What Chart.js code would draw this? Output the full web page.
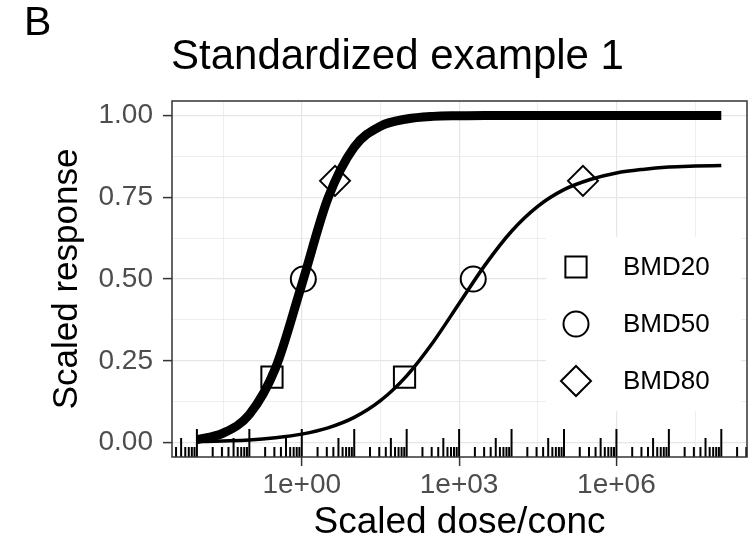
<!DOCTYPE html>
<html>
<head>
<meta charset="utf-8">
<script src="https://cdn.jsdelivr.net/npm/chart.js"></script>
<style>
  html, body { margin: 0; padding: 0; background: #fff; }
  #wrap { width: 755px; height: 548px; }
</style>
</head>
<body>
<div id="wrap"><canvas id="myChart" width="755" height="548"></canvas></div>
<script>
// curve values at half-decade steps
const doses = [0.01, 0.0316, 0.1, 0.316, 1, 3.16, 10, 31.6, 100, 316, 1000, 3162,
  1e4, 31623, 1e5, 316228, 1e6, 3162278, 1e7, 31622777, 1e8]
const potentResponse = [0.009, 0.029, 0.086, 0.228, 0.483, 0.747, 0.903, 0.967, 0.989, 0.997, 0.999, 1.000,
  1.000, 1.000, 1.000, 1.000, 1.000, 1.000, 1.000, 1.000, 1.000]
const weakResponse = [0.003, 0.005, 0.008, 0.015, 0.026, 0.045, 0.077, 0.128, 0.204, 0.306, 0.425, 0.544,
  0.646, 0.722, 0.773, 0.804, 0.824, 0.835, 0.842, 0.845, 0.847]

// benchmark doses
const bmdLabels = ['BMD20', 'BMD50', 'BMD80']
const bmdLevels = [0.2, 0.5, 0.8]
const potentBmd = [0.27, 1.07, 4.3]
const weakBmd = [91, 1860, 230000]

// axis ticks (blank label = minor grid line)
const xTickValues = [0.0316, 1, 31.6, 1000, 31623, 1e6, 31622777]
const xTickLabels = ['', '1e+00', '', '1e+03', '', '1e+06', '']
const yTickValues = [0, 0.125, 0.25, 0.375, 0.5, 0.625, 0.75, 0.875, 1]
const yTickLabels = ['0.00', '', '0.25', '', '0.50', '', '0.75', '', '1.00']

const fontFamily = '"Liberation Sans", Arial, Helvetica, sans-serif'
const markerStyles = ['rect', 'circle', 'rectRot']
const markerRadius = [15, 12.5, 15]

const isMajor = (c) => c.tick && c.tick.label !== ''

let data = {
  datasets: [
    {
      label: 'potent',
      data: doses.map((d, i) => ({ x: d, y: potentResponse[i] })),
      borderColor: '#000',
      borderWidth: 9,
      pointRadius: 0,
      cubicInterpolationMode: 'monotone',
      borderCapStyle: 'butt'
    },
    {
      label: 'weak',
      data: doses.map((d, i) => ({ x: d, y: weakResponse[i] })),
      borderColor: '#000',
      borderWidth: 3.5,
      pointRadius: 0,
      cubicInterpolationMode: 'monotone',
      borderCapStyle: 'butt'
    }
  ].concat(bmdLabels.map((lab, i) => ({
    label: lab,
    data: [{ x: potentBmd[i], y: bmdLevels[i] }, { x: weakBmd[i], y: bmdLevels[i] }],
    showLine: false,
    pointStyle: markerStyles[i],
    pointRadius: markerRadius[i],
    pointBackgroundColor: '#fff',
    pointBorderColor: '#000',
    pointBorderWidth: 2
  })))
}

// log ticks along the bottom, panel border, legend, title
const decor = {
  id: 'decor',
  beforeDatasetsDraw(chart) {
    const { ctx, chartArea: a, scales: { x } } = chart
    ctx.save()
    ctx.strokeStyle = '#000'
    ctx.lineWidth = 2
    for (let e = -3; e <= 8; e++) {
      for (let k = 1; k <= 9; k++) {
        const px = x.getPixelForValue(k * Math.pow(10, e))
        if (px < a.left || px > a.right) continue
        const len = k === 1 ? 28 : (k === 5 ? 19 : 10)
        ctx.beginPath()
        ctx.moveTo(px, a.bottom)
        ctx.lineTo(px, a.bottom - len)
        ctx.stroke()
      }
    }
    ctx.restore()
  },
  afterDatasetsDraw(chart) {
    const { ctx, chartArea: a } = chart
    ctx.save()
    // legend
    const keyX = a.right - 171
    const textX = a.right - 124
    const rows = [a.top + 166, a.top + 223, a.top + 280]
    ctx.fillStyle = '#fff'
    ctx.fillRect(keyX - 30, rows[0] - 30, a.right - 6 - (keyX - 30), rows[2] - rows[0] + 60)
    rows.forEach((ry, i) => {
      ctx.fillStyle = '#fff'
      ctx.strokeStyle = '#000'
      ctx.lineWidth = 2
      Chart.helpers.drawPoint(ctx, { pointStyle: markerStyles[i], radius: markerRadius[i], rotation: 0, borderWidth: 2 }, keyX, ry)
      ctx.fillStyle = '#000'
      ctx.font = '26px ' + fontFamily
      ctx.textAlign = 'left'
      ctx.textBaseline = 'middle'
      ctx.fillText(bmdLabels[i], textX, ry + 1)
    })
    // panel border
    ctx.strokeStyle = '#333'
    ctx.lineWidth = 1.5
    ctx.strokeRect(a.left, a.top, a.right - a.left, a.bottom - a.top)
    ctx.restore()
  },
  afterDraw(chart) {
    const { ctx } = chart
    ctx.save()
    ctx.fillStyle = '#000'
    ctx.textAlign = 'left'
    ctx.textBaseline = 'alphabetic'
    ctx.font = '41px ' + fontFamily
    ctx.fillText('B', 24, 35)
    ctx.font = '42px ' + fontFamily
    ctx.fillText('Standardized example 1', 171, 69)
    ctx.restore()
  }
}

let config = {
  type: 'line',
  data: data,
  options: {
    responsive: false,
    animation: false,
    layout: { autoPadding: false, padding: { top: 101, right: 8, bottom: 0, left: 0 } },
    plugins: {
      legend: { display: false },
      tooltip: { enabled: false }
    },
    scales: {
      x: {
        type: 'logarithmic',
        min: Math.pow(10, -2.475),
        max: Math.pow(10, 8.49),
        afterBuildTicks: (s) => { s.ticks = xTickValues.map(v => ({ value: v })) },
        afterFit: (s) => { s.height = 91 },
        border: { display: false },
        grid: {
          color: '#e6e6e6',
          lineWidth: (c) => isMajor(c) ? 1.2 : 0.7,
          tickLength: 9,
          tickWidth: 1.5,
          tickColor: (c) => isMajor(c) ? '#333' : 'rgba(0,0,0,0)'
        },
        ticks: {
          callback: (v, i) => xTickLabels[i],
          autoSkip: false,
          maxRotation: 0,
          minRotation: 0,
          padding: 2,
          color: '#4d4d4d',
          font: { family: fontFamily, size: 28 }
        },
        title: {
          display: true,
          text: 'Scaled dose/conc',
          color: '#000',
          font: { family: fontFamily, size: 37 },
          padding: { top: 0, bottom: 3 }
        }
      },
      y: {
        type: 'linear',
        min: -0.044,
        max: 1.044,
        afterBuildTicks: (s) => { s.ticks = yTickValues.map(v => ({ value: v })) },
        afterFit: (s) => { s.width = 172 },
        border: { display: false },
        grid: {
          color: '#e6e6e6',
          lineWidth: (c) => isMajor(c) ? 1.2 : 0.7,
          tickLength: 9,
          tickWidth: 1.5,
          tickColor: (c) => isMajor(c) ? '#333' : 'rgba(0,0,0,0)'
        },
        ticks: {
          callback: (v, i) => yTickLabels[i],
          autoSkip: false,
          padding: 10,
          color: '#4d4d4d',
          font: { family: fontFamily, size: 28 }
        },
        title: {
          display: true,
          text: 'Scaled response',
          color: '#000',
          font: { family: fontFamily, size: 35 },
          padding: { top: 46, bottom: 0 }
        }
      }
    }
  },
  plugins: [decor]
};

const myChart = new Chart(
  document.getElementById('myChart'),
  config
);
</script>
</body>
</html>
